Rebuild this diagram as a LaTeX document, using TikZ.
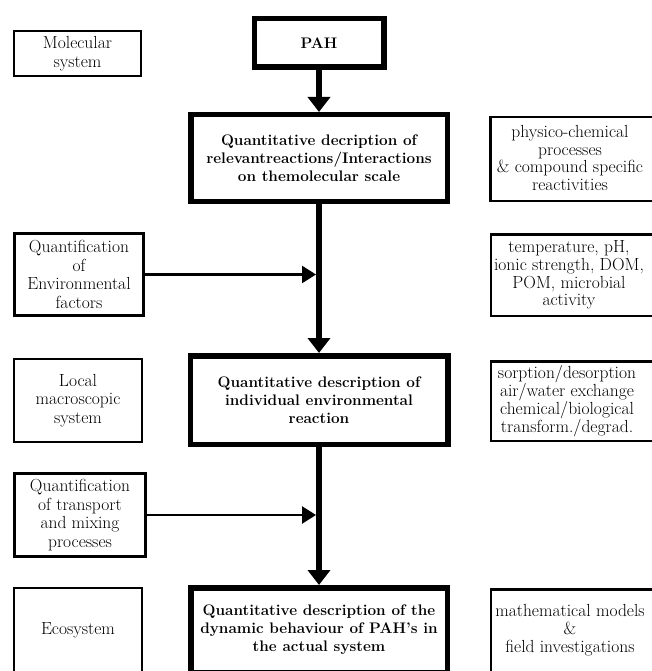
\documentclass[tikz,border=0pt]{standalone}
\usetikzlibrary{arrows.meta}
\begin{document}
\begin{tikzpicture}[x=1pt,y=-1pt,
  thinbox/.style={draw, line width=2pt, align=center, inner sep=0pt, font=\fontsize{17.5}{18.5}\selectfont},
  mainbox/.style={draw, line width=5.5pt, align=center, inner sep=0pt, font=\bfseries\fontsize{15.3}{18}\selectfont},
  rbox/.style={draw, line width=2.5pt, inner sep=0pt, minimum width=178pt},
  rtext/.style={align=center, inner sep=0pt, font=\fontsize{17.5}{17.8}\selectfont},
  mainarrow/.style={line width=6pt, -{Triangle[width=22pt,length=15pt]}},
  sidearrow/.style={line width=2.5pt, -{Triangle[width=17pt,length=14pt]}, shorten >=3pt}
]
\useasboundingbox (0,0) rectangle (652,671);
\clip (0,0) rectangle (652,671);

% left column
\node[thinbox, minimum width=127pt, minimum height=45pt] (mol) at (77.5,53.5) {Molecular\\system};
\node[thinbox, line width=3pt, minimum width=129pt, minimum height=82pt] (qe) at (79,274.5) {Quantification\\of\\Environmental\\factors};
\node[thinbox, minimum width=128pt, minimum height=83pt] (lm) at (78,400.5) {Local\\macroscopic\\system};
\node[thinbox, line width=3pt, minimum width=131pt, minimum height=83pt] (qt) at (80,515) {Quantification\\of transport\\and mixing\\processes};
\node[thinbox, minimum width=128pt, minimum height=84pt] (eco) at (78,630) {Ecosystem};

% main column
\node[mainbox, minimum width=129.5pt, minimum height=48.5pt] (pah) at (319,43) {PAH};
\node[mainbox, minimum width=256.5pt, minimum height=86.5pt] (q1) at (319,158) {Quantitative decription of\\relevantreactions/Interactions\\on themolecular scale};
\node[mainbox, minimum width=257.5pt, minimum height=88.5pt] (q2) at (319,400) {Quantitative description of\\individual environmental\\reaction};
\node[mainbox, minimum width=256.5pt, minimum height=84.5pt] (q3) at (319,630) {Quantitative description of the\\dynamic behaviour of PAH's in\\the actual system};

% right column
\node[rbox, minimum height=83.5pt] (r1) at (579.5,159) {};
\node[rtext] (r1t) at (570,158) {physico-chemical\\processes\\\& compound specific\\reactivities};
\node[rbox, minimum height=81.5pt] (r2) at (580,275) {};
\node[rtext] (r2t) at (569,275) {temperature, pH,\\ionic strength, DOM,\\POM, microbial\\activity};
\node[rbox, minimum height=79.5pt] (r3) at (580,401) {};
\node[rtext] (r3t) at (567,401) {sorption/desorption\\air/water exchange\\chemical/biological\\transform./degrad.};
\node[rbox, minimum height=85.5pt] (r4) at (580,632) {};
\node[rtext] (r4t) at (570,630) {mathematical models\\\&\\field investigations};

% connectors
\draw[mainarrow] (pah.south) -- (q1.north);
\draw[mainarrow] (q1.south) -- (q2.north);
\draw[mainarrow] (q2.south) -- (q3.north);
\coordinate (j1) at (q1.south |- qe.east);
\coordinate (j2) at (q2.south |- qt.east);
\draw[sidearrow] (qe.east) -- (j1);
\draw[sidearrow] (qt.east) -- (j2);
\end{tikzpicture}
\end{document}
